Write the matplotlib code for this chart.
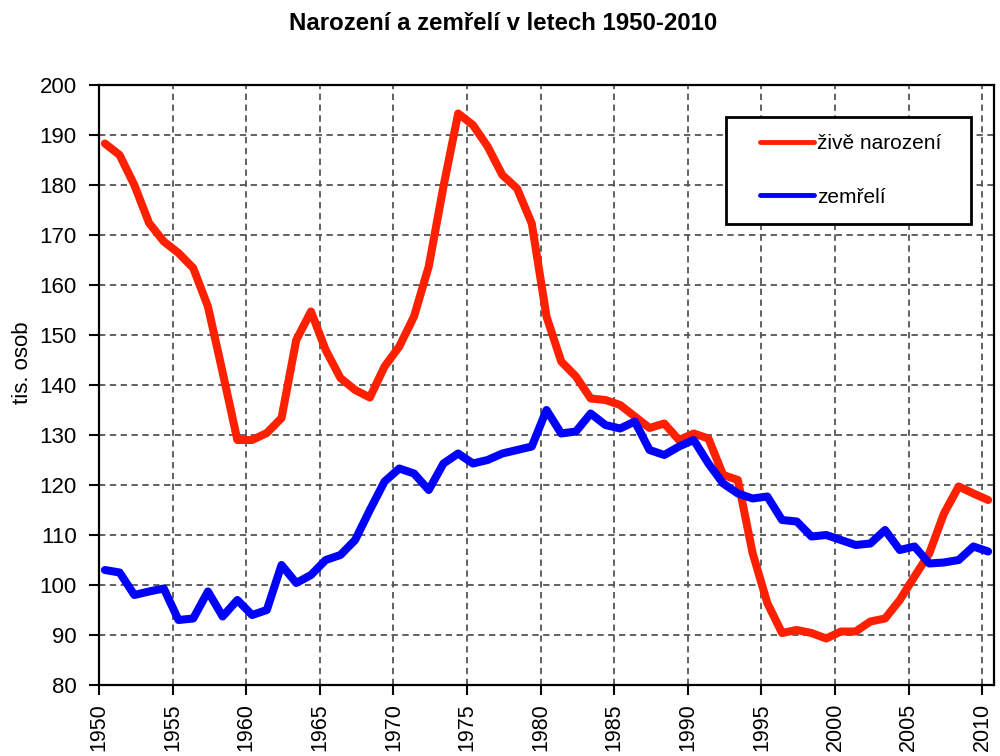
import numpy as np
import matplotlib
matplotlib.use('Agg')
import matplotlib.pyplot as plt
from matplotlib.patches import Rectangle

plt.rcParams['font.family'] = ['Liberation Sans', 'DejaVu Sans']

years = list(range(1950, 2011))
births = [188.3, 186.0, 180.0, 172.4, 168.7, 166.4, 163.4, 155.7, 142.5, 129.0,
          129.0, 130.4, 133.4, 149.0, 154.7, 147.0, 141.4, 139.0, 137.5, 143.7,
          147.7, 153.7, 163.7, 179.7, 194.3, 192.0, 187.7, 182.0, 179.3, 172.3,
          153.7, 144.7, 141.7, 137.3, 137.0, 136.0, 133.7, 131.4, 132.3, 129.0,
          130.3, 129.3, 122.0, 121.0, 106.4, 96.4, 90.4, 91.0, 90.4, 89.3,
          90.7, 90.7, 92.7, 93.3, 97.0, 101.7, 106.3, 114.3, 119.7, 118.3,
          117.0]
deaths = [103.0, 102.5, 98.0, 98.7, 99.3, 93.0, 93.3, 98.7, 93.7, 97.0,
          94.0, 95.0, 104.0, 100.4, 102.0, 105.0, 106.0, 109.0, 115.0, 120.7,
          123.3, 122.3, 119.0, 124.3, 126.3, 124.3, 125.0, 126.3, 127.0, 127.7,
          135.0, 130.3, 130.7, 134.3, 132.0, 131.3, 132.7, 127.0, 126.0, 127.7,
          129.0, 124.3, 120.3, 118.3, 117.3, 117.7, 113.0, 112.7, 109.7, 110.0,
          109.0, 108.0, 108.3, 111.0, 107.0, 107.7, 104.3, 104.5, 105.0, 107.7,
          106.7]
labels = ['živě narození', 'zemřelí']
colors = ['#FF2000', '#0000FF']

W, H = 1000, 756
fig = plt.figure(figsize=(W / 100, H / 100), dpi=100)
ax = fig.add_axes([99 / W, 1 - 685 / H, (994 - 99) / W, 600 / H])

x = np.array(years) + 0.4
for vals, lab, col in zip([births, deaths], labels, colors):
    ax.plot(x, vals, color=col, lw=5.8, label=lab, solid_joinstyle='round',
            solid_capstyle='round', zorder=3)

ax.set_xlim(1950, 2010.8)
ax.set_ylim(80, 200)
ax.set_xticks(range(1950, 2011, 5))
ax.set_yticks(range(80, 201, 10))
ax.set_xticklabels([str(y) for y in range(1950, 2011, 5)], rotation=90, va='top')
ax.grid(True, color='#555555', lw=1.3, linestyle=(0, (3.5, 2.5)))
ax.set_axisbelow(True)
ax.tick_params(axis='both', direction='out', length=7, width=1.5,
               labelsize=16, colors='black')
ax.tick_params(axis='y', pad=9)
ax.tick_params(axis='x', pad=6, labelsize=15.5)
for s in ax.spines.values():
    s.set_linewidth(1.6)
    s.set_color('black')

fig.text(22 / W, 1 - 363 / H, 'tis. osob', rotation=90, ha='center',
         va='center', fontsize=16)
fig.text(0.503, 1 - 23 / H, 'Narození a zemřelí v letech 1950-2010',
         ha='center', va='center', fontsize=17.3, fontweight='bold')

# legend frame
ax.add_patch(Rectangle((0.7006, 0.7683), 0.2734, 0.1784, transform=ax.transAxes,
                       facecolor='white', edgecolor='black', lw=2, zorder=4))
leg = ax.legend(loc='center left', bbox_to_anchor=(0.7385, 0.8577), frameon=False,
                fontsize=15, handlelength=2.6, handletextpad=0.15,
                labelspacing=1.65, borderpad=0, borderaxespad=0)
leg.set_zorder(5)
for line in leg.get_lines():
    line.set_linewidth(3.5)

fig.savefig('out.png', dpi=100)
